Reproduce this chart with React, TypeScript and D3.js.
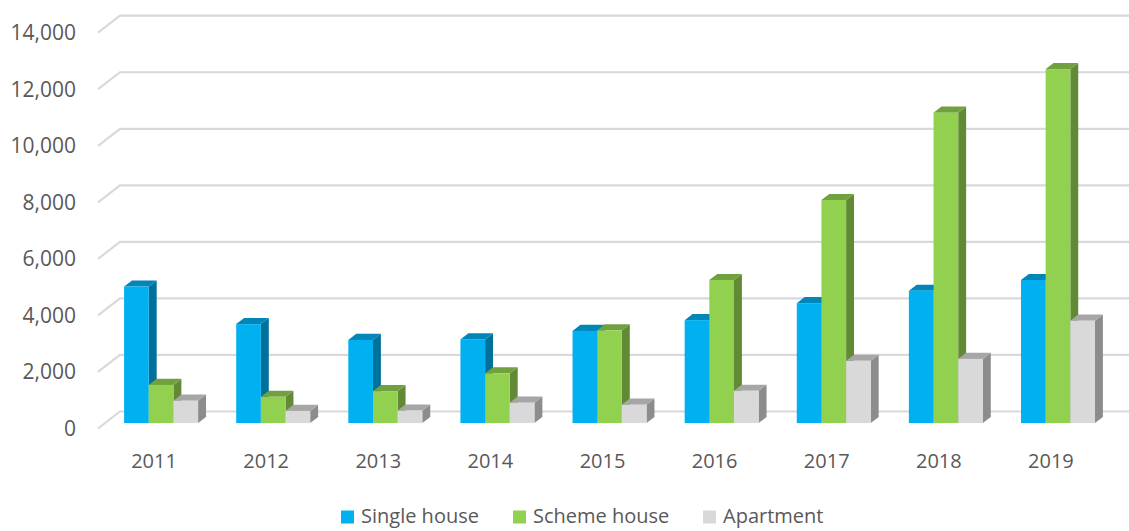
import React, { useEffect, useRef } from 'react';
import * as d3 from 'd3';

const categories = ['2011', '2012', '2013', '2014', '2015', '2016', '2017', '2018', '2019'];
const singleHouse = [4830, 3500, 2940, 2960, 3260, 3640, 4240, 4680, 5060];
const schemeHouse = [1350, 930, 1130, 1760, 3280, 5060, 7890, 10980, 12520];
const apartment = [790, 430, 440, 720, 650, 1140, 2200, 2270, 3620];
const yTicks = [0, 2000, 4000, 6000, 8000, 10000, 12000, 14000];

const seriesNames = ['Single house', 'Scheme house', 'Apartment'];
const seriesValues = [singleHouse, schemeHouse, apartment];
// front / side / top shades
const seriesColors = [
  { front: '#00B0F0', side: '#00719B', top: '#0086B8' },
  { front: '#92D050', side: '#628A36', top: '#70A13E' },
  { front: '#D9D9D9', side: '#8C8C8C', top: '#A6A6A6' },
];

export default function App() {
  const ref = useRef<SVGSVGElement | null>(null);

  useEffect(() => {
    const width = 1129;
    const height = 531;
    const svg = d3.select(ref.current);
    svg.selectAll('*').remove();

    // 3d depth of the floor: back wall is shifted by (dx, dy)
    const depthX = 22;
    const depthY = -17;
    const barFront = 0.32;
    const barBack = 0.68;
    const font = "'Open Sans', sans-serif";
    const textColor = '#595959';

    const x = d3.scaleBand().domain(categories).range([98, 1107]).paddingInner(0).paddingOuter(0);
    const y = d3.scaleLinear().domain([0, 14000]).range([428.5, 32.7]);
    const groupWidth = x.bandwidth() * 0.66;
    const x1 = d3
      .scaleBand()
      .domain(seriesNames)
      .range([(x.bandwidth() - groupWidth) / 2, (x.bandwidth() + groupWidth) / 2]);

    // gridlines: diagonal on the side wall + back wall line
    const grid = svg.append('g').attr('stroke', '#D9D9D9').attr('stroke-width', 2.2).attr('fill', 'none');
    grid
      .selectAll('path')
      .data(yTicks)
      .join('path')
      .attr('d', (d) => {
        const x0 = x.range()[0];
        const y0 = y(d);
        return `M${x0},${y0}L${x0 + depthX},${y0 + depthY}L${width},${y0 + depthY}`;
      });

    // y labels
    svg
      .append('g')
      .selectAll('text')
      .data(yTicks)
      .join('text')
      .attr('x', 76)
      .attr('y', (d) => y(d))
      .attr('dy', '0.35em')
      .attr('text-anchor', 'end')
      .style('font-family', font)
      .style('font-size', '21px')
      .attr('fill', textColor)
      .text((d) => d3.format(',')(d));

    // bars, left to right so right side faces get covered properly
    const bars = svg.append('g');
    categories.forEach((cat, ci) => {
      seriesNames.forEach((name, si) => {
        const v = seriesValues[si][ci];
        const c = seriesColors[si];
        const ox = depthX * barFront;
        const oy = depthY * barFront;
        const bx = depthX * (barBack - barFront);
        const by = depthY * (barBack - barFront);
        const left = (x(cat) as number) + (x1(name) as number) + ox;
        const right = left + x1.bandwidth();
        const bottom = y(0) + oy;
        const top = y(v) + oy;
        const g = bars.append('g');
        g.append('path')
          .attr('d', `M${right},${top}L${right + bx},${top + by}L${right + bx},${bottom + by}L${right},${bottom}Z`)
          .attr('fill', c.side);
        g.append('path')
          .attr('d', `M${left},${top}L${left + bx},${top + by}L${right + bx},${top + by}L${right},${top}Z`)
          .attr('fill', c.top);
        g.append('rect')
          .attr('x', left)
          .attr('y', top)
          .attr('width', x1.bandwidth())
          .attr('height', bottom - top)
          .attr('fill', c.front);
      });
    });

    // category labels
    svg
      .append('g')
      .selectAll('text')
      .data(categories)
      .join('text')
      .attr('x', (d) => (x(d) as number) + x.bandwidth() / 2)
      .attr('y', 461)
      .attr('dy', '0.35em')
      .attr('text-anchor', 'middle')
      .style('font-family', font)
      .style('font-size', '20px')
      .attr('fill', textColor)
      .text((d) => d);

    // legend
    const legendX = [341, 513, 703];
    const legend = svg
      .append('g')
      .selectAll('g')
      .data(seriesNames)
      .join('g')
      .attr('transform', (d, i) => `translate(${legendX[i]},515.5)`);
    legend
      .append('rect')
      .attr('x', 0)
      .attr('y', -5)
      .attr('width', 13)
      .attr('height', 13)
      .attr('fill', (d, i) => seriesColors[i].front);
    legend
      .append('text')
      .attr('x', 20)
      .attr('y', 0)
      .attr('dy', '0.35em')
      .style('font-family', font)
      .style('font-size', '20px')
      .attr('fill', textColor)
      .text((d) => d);

    svg.attr('width', width).attr('height', height);
  }, []);

  return (
    <svg
      ref={ref}
      width={1129}
      height={531}
      style={{ display: 'block', position: 'absolute', left: 0, top: 0, background: '#fff' }}
    />
  );
}
